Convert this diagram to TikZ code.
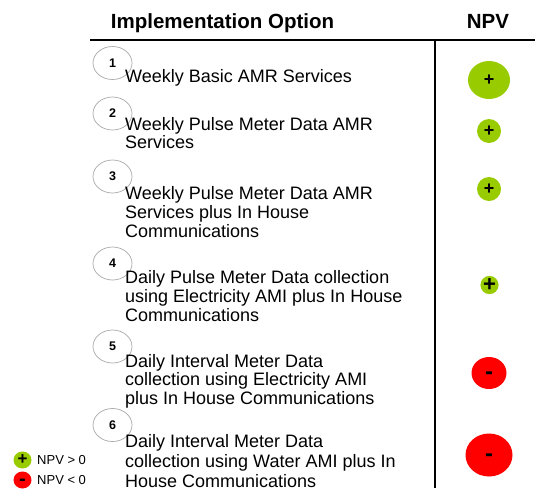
\documentclass[tikz,border=0pt]{standalone}
\usepackage{fontspec}
\setmainfont{Liberation Sans}
\usetikzlibrary{shapes.geometric}
\definecolor{npvpos}{HTML}{99CC00}
\definecolor{npvneg}{HTML}{FF0000}
\definecolor{ringgray}{HTML}{A8A8A8}

\begin{document}
\begin{tikzpicture}[x=1pt,y=-1pt,
  headtext/.style={anchor=base, inner sep=0pt, font=\fontsize{20.5}{22}\selectfont\bfseries},
  rule/.style={line width=2pt, black},
  optnum/.style={draw=ringgray, line width=0.7pt, ellipse, minimum width=39pt,
    minimum height=33pt, inner sep=0pt, font=\fontsize{12.5}{13}\selectfont\bfseries},
  opttext/.style={anchor=base west, align=left, inner sep=0pt,
    font=\fontsize{18}{19}\selectfont},
  posdot/.style={ellipse, fill=npvpos, inner sep=0pt, font=\fontsize{18}{18}\selectfont\bfseries},
  % the hyphen sits above the baseline; pad its box so it lands mid-ellipse
  negdot/.style={ellipse, fill=npvneg, inner sep=0pt, text height=12.5pt, text depth=0pt,
    font=\fontsize{24}{24}\selectfont\bfseries},
  legtext/.style={anchor=west, inner sep=0pt, font=\fontsize{13}{14}\selectfont}]

\useasboundingbox (0,0) rectangle (535,488);

% column headings
\node[headtext] (hopt) at (222.5,28) {Implementation Option};
\node[headtext] (hnpv) at (488,28) {NPV};

% table rules
\coordinate (hl) at (90,40);
\coordinate (hr) at (535,40);
\coordinate (vt) at (434.5,40);
\coordinate (vb) at (434.5,488);
\draw[rule] (hl) -- (hr);
\draw[rule] (vt) -- (vb);

% numbered options
\node[optnum] (n1) at (112.5,63) {1};
\node[optnum] (n2) at (112.5,113.5) {2};
\node[optnum] (n3) at (112.5,176.5) {3};
\node[optnum] (n4) at (112.5,263.5) {4};
\node[optnum] (n5) at (112.5,346.5) {5};
\node[optnum] (n6) at (112.5,425) {6};

% option descriptions (base anchor sits on the last line)
\node[opttext] (t1) at (125,82) {Weekly Basic AMR Services};
\node[opttext, font=\fontsize{18}{15.6}\selectfont] (t2) at (125,148.3)
  {Weekly Pulse Meter Data AMR\\Services};
\node[opttext] (t3) at (125,237)
  {Weekly Pulse Meter Data AMR\\Services plus In House\\Communications};
\node[opttext] (t4) at (125,321)
  {Daily Pulse Meter Data collection\\using Electricity AMI plus In House\\Communications};
\node[opttext, font=\fontsize{18}{18.5}\selectfont] (t5) at (125,404)
  {Daily Interval Meter Data\\collection using Electricity AMI\\plus In House Communications};
\node[opttext, font=\fontsize{18}{20}\selectfont] (t6) at (125,487)
  {Daily Interval Meter Data\\collection using Water AMI plus In\\House Communications};

% NPV markers, sized by magnitude
\node[posdot, minimum width=42pt, minimum height=38pt] (p1) at (489,80) {+};
\node[posdot, minimum width=24pt, minimum height=24pt] (p2) at (489,131) {+};
\node[posdot, minimum width=24pt, minimum height=24pt] (p3) at (489,189) {+};
\node[posdot, minimum width=16pt, minimum height=16pt, font=\fontsize{22}{22}\selectfont\bfseries] (p4) at (489.5,285) {+};
\node[negdot, minimum width=35pt, minimum height=32pt] (m5) at (489,373) {-};
\node[negdot, minimum width=47pt, minimum height=43pt] (m6) at (489,455) {-};

% legend
\node[posdot, minimum width=18pt, minimum height=17pt, font=\fontsize{17}{17}\selectfont\bfseries] (lp) at (22.5,460) {+};
\node[negdot, minimum width=18pt, minimum height=17pt, text height=10.4pt,
  font=\fontsize{20}{20}\selectfont\bfseries] (lm) at (22.5,480) {-};
\node[legtext] (lpt) at (37,460) {NPV > 0};
\node[legtext] (lmt) at (37,480) {NPV < 0};
\end{tikzpicture}
\end{document}
